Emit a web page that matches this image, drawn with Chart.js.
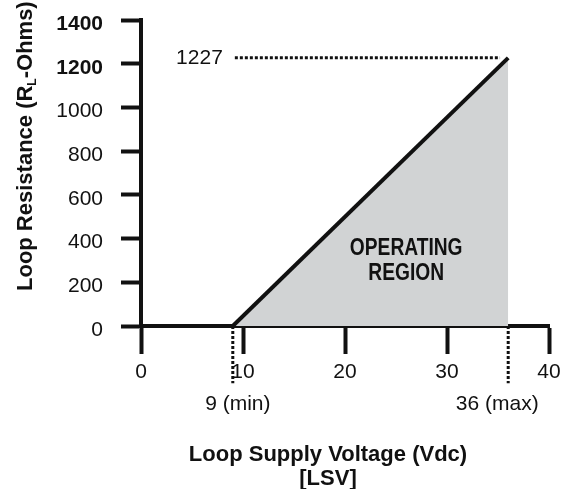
<!DOCTYPE html>
<html>
<head>
<meta charset="utf-8">
<script src="https://cdn.jsdelivr.net/npm/chart.js@4.4.1/dist/chart.umd.min.js"></script>
<style>
  html, body { margin: 0; padding: 0; background: #fff; }
  #wrap { width: 565px; height: 489px; position: relative; }
</style>
</head>
<body>
<div id="wrap"><canvas id="chart"></canvas></div>
<script>
'use strict';

// ─── Data ────────────────────────────────────────────────────────────────────
const xTicks       = [0, 10, 20, 30, 40];
const yTicks       = [0, 200, 400, 600, 800, 1000, 1200, 1400];
const supplyVolts  = [9, 36];          // operating line, x
const loopOhms     = [0, 1227];        // operating line, y
const leaderVolts  = [9.2, 35.2];      // dotted leader to max resistance
const leaderOhms   = [1227, 1227];
const limitVolts   = [9, 36];          // min / max supply markers
const limitLabels  = ['9 (min)', '36 (max)'];
const maxOhmsLabel = '1227';
const regionLines  = ['OPERATING', 'REGION'];
const regionAt     = [26, 300];        // volts, ohms
const yTitleParts  = ['Loop Resistance (R', 'L', '-Ohms)'];
const xTitleLines  = ['Loop Supply Voltage (Vdc)', '[LSV]'];

// ─── Style ───────────────────────────────────────────────────────────────────
const FONT       = '"Liberation Sans", Arial, Helvetica, sans-serif';
const INK        = '#111';
const FILL_GREY  = '#d1d3d4';
const MARK_DEPTH = -262;   // how far the limit markers drop below the axis

const pts = (xs, ys) => xs.map((v, i) => ({ x: v, y: ys[i] }));

const marker = (v) => ({
  data:        [{ x: v, y: 0 }, { x: v, y: MARK_DEPTH }],
  borderColor: INK,
  borderWidth: 3,
  borderDash:  [3, 2],
  pointRadius: 0,
  fill:        false,
  clip:        false,
});

// ─── Text overlay ────────────────────────────────────────────────────────────
const annotate = {
  id: 'annotate',
  afterDraw(chart) {
    const { ctx, scales: { x, y } } = chart;
    ctx.save();
    ctx.fillStyle = INK;

    // max resistance label
    ctx.font = '21px ' + FONT;
    ctx.textAlign = 'right';
    ctx.textBaseline = 'middle';
    ctx.fillText(maxOhmsLabel, x.getPixelForValue(leaderVolts[0]) - 12, y.getPixelForValue(leaderOhms[0]));

    // min / max labels
    ctx.textAlign = 'center';
    const nudge = [5, -11];
    limitVolts.forEach((v, i) => {
      ctx.fillText(limitLabels[i], x.getPixelForValue(v) + nudge[i], 404);
    });

    // operating region (condensed bold)
    const cx = x.getPixelForValue(regionAt[0]);
    const cy = y.getPixelForValue(regionAt[1]);
    ctx.font = 'bold 24px ' + FONT;
    regionLines.forEach((t, i) => {
      ctx.save();
      ctx.translate(cx, cy - 12 + i * 25);
      ctx.scale(0.8, 1);
      ctx.fillText(t, 0, 0);
      ctx.restore();
    });

    // x title
    ctx.font = 'bold 22px ' + FONT;
    xTitleLines.forEach((t, i) => ctx.fillText(t, 328, 455 + i * 24));

    // y title with subscript
    ctx.save();
    ctx.translate(32, 291);
    ctx.rotate(-Math.PI / 2);
    ctx.textAlign = 'left';
    ctx.textBaseline = 'alphabetic';
    let off = 0;
    ctx.font = 'bold 22px ' + FONT;
    ctx.fillText(yTitleParts[0], off, 0);
    off += ctx.measureText(yTitleParts[0]).width;
    ctx.font = 'bold 12px ' + FONT;
    ctx.fillText(yTitleParts[1], off, 4);
    off += ctx.measureText(yTitleParts[1]).width;
    ctx.font = 'bold 22px ' + FONT;
    ctx.fillText(yTitleParts[2], off, 0);
    ctx.restore();

    ctx.restore();
  },
};

// ─── Chart ───────────────────────────────────────────────────────────────────
new Chart(document.getElementById('chart'), {
  type: 'line',
  data: {
    datasets: [
      {
        data:            pts(supplyVolts, loopOhms),
        borderColor:     INK,
        borderWidth:     4,
        backgroundColor: FILL_GREY,
        fill:            'origin',
        pointRadius:     0,
        tension:         0,
      },
      {
        data:        pts(leaderVolts, leaderOhms),
        borderColor: INK,
        borderWidth: 3,
        borderDash:  [3, 2],
        pointRadius: 0,
        fill:        false,
      },
      marker(limitVolts[0]),
      marker(limitVolts[1]),
    ],
  },
  options: {
    animation:           false,
    responsive:          true,
    maintainAspectRatio: false,
    layout: { padding: { top: 20, right: 16, left: 0, bottom: 0 } },
    plugins: {
      legend:  { display: false },
      tooltip: { enabled: false },
    },
    scales: {
      x: {
        type: 'linear',
        z:    1,
        min:  xTicks[0],
        max:  xTicks[xTicks.length - 1],
        afterBuildTicks: (s) => { s.ticks = xTicks.map((v) => ({ value: v })); },
        afterFit:        (s) => { s.height = 163; s.paddingLeft = 0; s.paddingRight = 0; },
        grid:   { drawOnChartArea: false, tickLength: 28, tickWidth: 4, tickColor: INK },
        border: { color: INK, width: 4 },
        ticks:  { color: INK, padding: 6, font: { family: FONT, size: 21 }, maxRotation: 0 },
      },
      y: {
        z:   1,
        min: yTicks[0],
        max: yTicks[yTicks.length - 1],
        afterBuildTicks: (s) => { s.ticks = yTicks.map((v) => ({ value: v })); },
        afterFit:        (s) => { s.width = 141; s.paddingTop = 0; s.paddingBottom = 0; },
        grid:   { drawOnChartArea: false, tickLength: 20, tickWidth: 4, tickColor: INK },
        border: { color: INK, width: 4 },
        ticks:  {
          color:       INK,
          padding:     18,
          labelOffset: 4,
          callback:    (v) => String(v),
          font: (c) => ({
            family: FONT,
            size:   21,
            weight: c.tick && c.tick.value >= 1200 ? 'bold' : 'normal',
          }),
        },
      },
    },
  },
  plugins: [annotate],
});
</script>
</body>
</html>
